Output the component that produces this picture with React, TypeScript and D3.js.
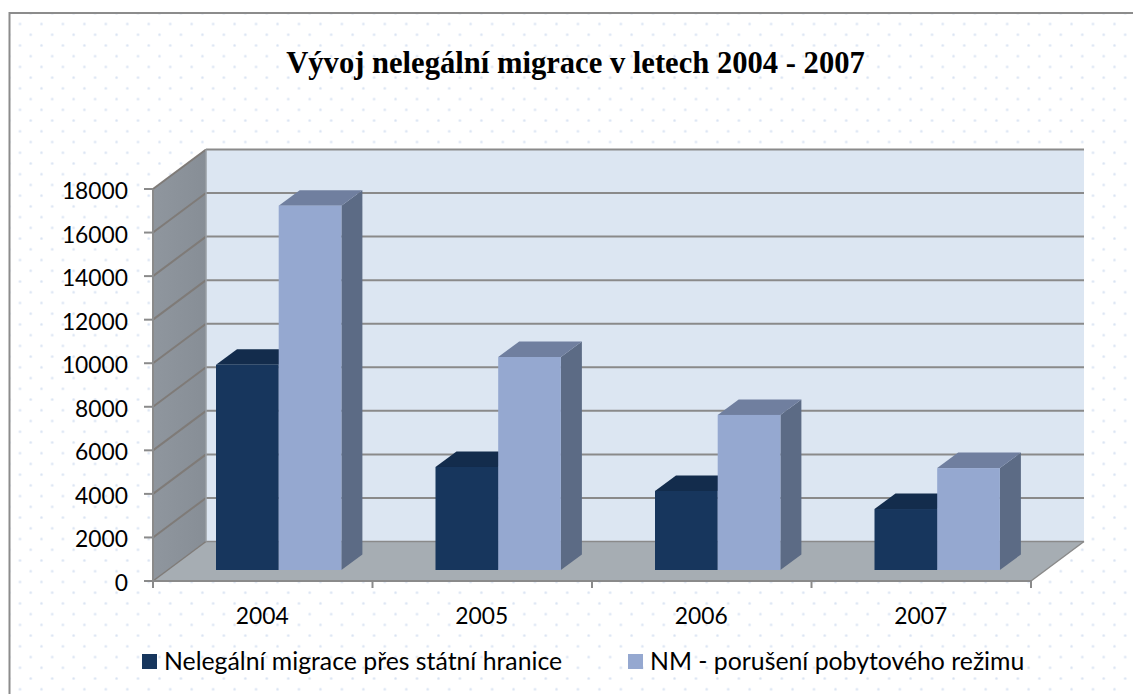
import React from "react";
import * as d3 from "d3";

const title = "Vývoj nelegální migrace v letech 2004 - 2007";
const categories = ["2004", "2005", "2006", "2007"];
const seriesNames = ["Nelegální migrace přes státní hranice", "NM - porušení pobytového režimu"];
const illegalCrossing = [9420, 4730, 3630, 2800];
const residenceBreach = [16730, 9780, 7120, 4680];
const yTicks = [0, 2000, 4000, 6000, 8000, 10000, 12000, 14000, 16000, 18000];

const W = 1133, H = 694;
const x0 = 153, x1 = 1031, yBase = 581, yTop = 189;
const depthX = 53, depthY = 39.5;
const barInsetY = 11;
const barSideX = 21, barSideY = 15.5;
const barStart = 63, barW = 62.7;

const GRID = "#8a8a8a";
const FONT = "Lato, 'Open Sans', sans-serif";
const LABEL = { fontFamily: FONT, fontSize: 22.8, fill: "#000" };
const LEGEND = { fontFamily: FONT, fontSize: 24.8, fill: "#000" };

const palette = [
  { front: "#17365d", top: "#132c4c", side: "#10243f" },
  { front: "#95a8d0", top: "#707f9f", side: "#5c6b85" },
];

const pts = (p: number[][]) => p.map((d) => d.join(",")).join(" ");

export default function App() {
  const y = d3.scaleLinear().domain([0, 18000]).range([yBase, yTop]);
  const x = d3.scaleBand<string>().domain(categories).range([x0, x1]);
  const step = x.step();
  const series = [illegalCrossing, residenceBreach];
  const h = yBase - barInsetY;
  const barY = (v: number) => h - (yBase - y(v));

  return (
    <svg width={W} height={H} style={{ position: "absolute", left: 0, top: 0, background: "#fff" }}>
      <defs>
        <pattern id="dots" patternUnits="userSpaceOnUse" x={18.5} y={22.5} width={21.46} height={21.46}>
          <circle cx={1.5} cy={1.5} r={1.5} fill="#e6edf7" />
          <circle cx={12.23} cy={12.23} r={1.5} fill="#e6edf7" />
          <circle cx={1.5} cy={1.5} r={0.7} fill="#d8e2f2" />
          <circle cx={12.23} cy={12.23} r={0.7} fill="#d8e2f2" />
        </pattern>
        <linearGradient id="wallSide" x1="0" x2="1" y1="0" y2="0">
          <stop offset="0" stopColor="#8f969e" />
          <stop offset="1" stopColor="#878e96" />
        </linearGradient>
      </defs>
      <rect x={10} y={14} width={W - 10} height={H - 14} fill="url(#dots)" />
      <path d={`M9.5,${H} V13 H${W}`} fill="none" stroke="#8c8c8c" strokeWidth={2} />

      <text x={575.5} y={73} textAnchor="middle" fontFamily="'Liberation Serif', serif" fontWeight="bold" fontSize={30.6} fill="#000">
        {title}
      </text>

      {/* back wall, side wall, floor */}
      <rect x={x0 + depthX} y={yTop - depthY} width={x1 - x0} height={yBase - yTop} fill="#dce6f2" />
      <polygon
        points={pts([[x0, yTop], [x0 + depthX, yTop - depthY], [x0 + depthX, yBase - depthY], [x0, yBase]])}
        fill="url(#wallSide)"
      />
      <polygon
        points={pts([[x0, yBase], [x0 + depthX, yBase - depthY], [x1 + depthX, yBase - depthY], [x1, yBase]])}
        fill="#a6adb3"
      />

      {/* gridlines */}
      {yTicks.map((t) => (
        <g key={t} fill="none" strokeWidth={t === 0 ? 1.5 : 2}>
          <path d={`M${x0},${y(t)} L${x0 + depthX},${y(t) - depthY}`} stroke="#7f7b78" />
          <path d={`M${x0 + depthX},${y(t) - depthY} H${x1 + depthX}`} stroke={GRID} />
        </g>
      ))}
      <path d={`M${x0 + depthX},${yTop - depthY} V${yBase - depthY}`} stroke="#9a9fa5" strokeWidth={1.5} />
      <path d={`M${x1},${yBase} L${x1 + depthX},${yBase - depthY}`} stroke={GRID} strokeWidth={1.5} />

      {/* bars */}
      {categories.map((c, i) => {
        const left = (x(c) as number) + barStart;
        return series.map((vals, s) => {
          const bx = left + s * barW;
          const top = barY(vals[i]);
          const col = palette[s];
          return (
            <g key={c + s}>
              <polygon
                points={pts([[bx + barW, top], [bx + barW + barSideX, top - barSideY], [bx + barW + barSideX, h - barSideY], [bx + barW, h]])}
                fill={col.side}
              />
              <polygon
                points={pts([[bx, top], [bx + barSideX, top - barSideY], [bx + barW + barSideX, top - barSideY], [bx + barW, top]])}
                fill={col.top}
              />
              <rect x={bx} y={top} width={barW} height={h - top} fill={col.front} />
            </g>
          );
        });
      })}

      {/* axes */}
      <path d={`M${x0},${yTop} V${yBase} H${x1}`} fill="none" stroke={GRID} strokeWidth={2} />
      {yTicks.map((t) => (
        <g key={t}>
          <line x1={x0 - 9} x2={x0} y1={y(t)} y2={y(t)} stroke={GRID} strokeWidth={2} />
          <text x={128} y={y(t) + 10} textAnchor="end" {...LABEL}>{t}</text>
        </g>
      ))}
      {categories.map((c, i) => (
        <g key={c}>
          <line x1={x0 + i * step} x2={x0 + i * step} y1={yBase} y2={yBase + 7} stroke={GRID} strokeWidth={2} />
          <text x={(x(c) as number) + x.bandwidth() / 2 - 0.5} y={624} textAnchor="middle" {...LABEL}>{c}</text>
        </g>
      ))}
      <line x1={x1} x2={x1} y1={yBase} y2={yBase + 7} stroke={GRID} strokeWidth={2} />

      {/* legend */}
      {seriesNames.map((n, s) => {
        const lx = s === 0 ? 142 : 628;
        return (
          <g key={n}>
            <rect x={lx} y={654} width={15} height={15} fill={palette[s].front} />
            <text x={lx + 22} y={670} {...LEGEND}>{n}</text>
          </g>
        );
      })}
    </svg>
  );
}
